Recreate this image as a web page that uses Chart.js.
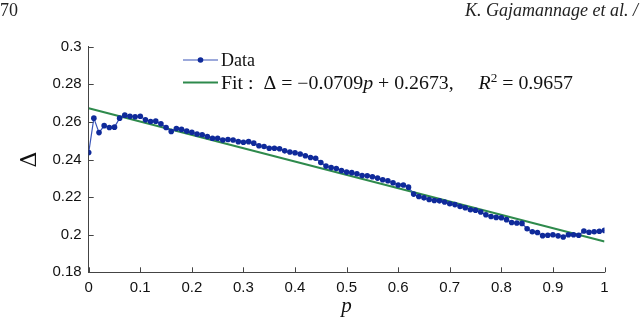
<!DOCTYPE html>
<html>
<head>
<meta charset="utf-8">
<script src="https://cdn.jsdelivr.net/npm/chart.js@4.4.1/dist/chart.umd.min.js"></script>
<style>
    html, body { margin: 0; padding: 0; background: #fff; }
    #wrap { position: relative; width: 640px; height: 319px; }
    .head { position: absolute; top: 0; font-family: "Liberation Serif", serif; font-size: 18px; line-height: 20px; color: #222; }
    #pageNo { left: 0; }
    #authors { right: 2px; font-style: italic; }
</style>
</head>
<body>
<div id="wrap">
    <canvas id="chart" width="640" height="319"></canvas>
    <div class="head" id="pageNo">70</div>
    <div class="head" id="authors">K. Gajamannage et al. /</div>
</div>
<script>
// ======================================================
//                    DONNÉES
// ======================================================

const pValues = [
    0, 0.01, 0.02, 0.03, 0.04, 0.05, 0.06, 0.07, 0.08, 0.09,
    0.10, 0.11, 0.12, 0.13, 0.14, 0.15, 0.16, 0.17, 0.18, 0.19,
    0.20, 0.21, 0.22, 0.23, 0.24, 0.25, 0.26, 0.27, 0.28, 0.29,
    0.30, 0.31, 0.32, 0.33, 0.34, 0.35, 0.36, 0.37, 0.38, 0.39,
    0.40, 0.41, 0.42, 0.43, 0.44, 0.45, 0.46, 0.47, 0.48, 0.49,
    0.50, 0.51, 0.52, 0.53, 0.54, 0.55, 0.56, 0.57, 0.58, 0.59,
    0.60, 0.61, 0.62, 0.63, 0.64, 0.65, 0.66, 0.67, 0.68, 0.69,
    0.70, 0.71, 0.72, 0.73, 0.74, 0.75, 0.76, 0.77, 0.78, 0.79,
    0.80, 0.81, 0.82, 0.83, 0.84, 0.85, 0.86, 0.87, 0.88, 0.89,
    0.90, 0.91, 0.92, 0.93, 0.94, 0.95, 0.96, 0.97, 0.98, 0.99,
    1.00
];

const deltaValues = [
    0.2437, 0.2620, 0.2543, 0.2580, 0.2570, 0.2572, 0.2620, 0.2636, 0.2630, 0.2627,
    0.2630, 0.2611, 0.2602, 0.2604, 0.2590, 0.2570, 0.2549, 0.2565, 0.2560, 0.2551,
    0.2545, 0.2536, 0.2532, 0.2522, 0.2513, 0.2513, 0.2504, 0.2506, 0.2504, 0.2495,
    0.2492, 0.2495, 0.2487, 0.2473, 0.2469, 0.2460, 0.2460, 0.2457, 0.2446, 0.2440,
    0.2436, 0.2429, 0.2420, 0.2411, 0.2407, 0.2384, 0.2365, 0.2357, 0.2352, 0.2341,
    0.2333, 0.2330, 0.2324, 0.2315, 0.2313, 0.2308, 0.2301, 0.2292, 0.2287, 0.2276,
    0.2264, 0.2264, 0.2253, 0.2216, 0.2203, 0.2196, 0.2187, 0.2182, 0.2180, 0.2174,
    0.2165, 0.2160, 0.2150, 0.2143, 0.2133, 0.2130, 0.2121, 0.2106, 0.2097, 0.2092,
    0.2090, 0.2080, 0.2065, 0.2062, 0.2060, 0.2032, 0.2016, 0.2012, 0.1995, 0.1997,
    0.2000, 0.1994, 0.1988, 0.2000, 0.2000, 0.1997, 0.2020, 0.2013, 0.2016, 0.2018,
    0.2023
];

// Droite de régression (extrémités)
const fitP = [0, 1];
const fitDelta = [0.2673, 0.1964];

// Graduations
const xTicks = [0, 0.1, 0.2, 0.3, 0.4, 0.5, 0.6, 0.7, 0.8, 0.9, 1];
const xTickLabels = ["0", "0.1", "0.2", "0.3", "0.4", "0.5", "0.6", "0.7", "0.8", "0.9", "1"];
const yTicks = [0.18, 0.2, 0.22, 0.24, 0.26, 0.28, 0.3];
const yTickLabels = ["0.18", "0.2", "0.22", "0.24", "0.26", "0.28", "0.3"];

// Couleurs
const dataLine = "#3a55b8";
const dataDot = "#0f2a9a";
const fitColor = "#2e8a4c";
const axisColor = "#444";

// ======================================================
//       PLUGINS (ticks intérieurs, titre Δ, légende)
// ======================================================

const inwardTicks = {
    id: "inwardTicks",
    beforeDatasetsDraw(chart) {
        const { ctx, chartArea, scales } = chart;
        ctx.save();
        ctx.strokeStyle = axisColor;
        ctx.lineWidth = 1;
        ctx.beginPath();
        xTicks.forEach(v => {
            const x = Math.round(scales.x.getPixelForValue(v)) + 0.5;
            ctx.moveTo(x, chartArea.bottom);
            ctx.lineTo(x, chartArea.bottom - 5);
        });
        yTicks.forEach(v => {
            const y = Math.round(scales.y.getPixelForValue(v)) + 0.5;
            ctx.moveTo(chartArea.left, y);
            ctx.lineTo(chartArea.left + 5, y);
        });
        ctx.stroke();

        // titre de l'axe Y, tourné comme dans MATLAB
        ctx.translate(30.5, (chartArea.top + chartArea.bottom) / 2);
        ctx.rotate(-Math.PI / 2);
        ctx.fillStyle = "#111";
        ctx.font = "22px 'DejaVu Serif', serif";
        ctx.textAlign = "center";
        ctx.textBaseline = "middle";
        ctx.fillText("\u0394", 0, 0);
        ctx.restore();
    }
};

function drawRuns(ctx, runs, x, y, targetWidth) {
    let total = 0;
    runs.forEach(r => {
        ctx.font = r.font;
        total += ctx.measureText(r.text).width;
    });
    const k = targetWidth ? targetWidth / total : 1;
    ctx.save();
    ctx.translate(x, y);
    ctx.scale(k, 1);
    let cx = 0;
    runs.forEach(r => {
        ctx.font = r.font;
        ctx.fillText(r.text, cx, r.dy || 0);
        cx += ctx.measureText(r.text).width;
    });
    ctx.restore();
}

const mathLegend = {
    id: "mathLegend",
    afterDraw(chart) {
        const { ctx } = chart;
        const rm = "18px 'Liberation Serif', serif";
        const it = "italic 18px 'Liberation Serif', serif";
        const sup = "12px 'Liberation Serif', serif";

        ctx.save();
        // Data
        ctx.strokeStyle = dataLine;
        ctx.lineWidth = 1.2;
        ctx.beginPath();
        ctx.moveTo(183, 60);
        ctx.lineTo(218, 60);
        ctx.stroke();
        ctx.fillStyle = dataDot;
        ctx.beginPath();
        ctx.arc(200.5, 60, 2.8, 0, Math.PI * 2);
        ctx.fill();

        // Fit
        ctx.strokeStyle = fitColor;
        ctx.lineWidth = 2;
        ctx.beginPath();
        ctx.moveTo(183, 82.5);
        ctx.lineTo(218, 82.5);
        ctx.stroke();

        ctx.fillStyle = "#111";
        ctx.textBaseline = "alphabetic";
        ctx.textAlign = "left";
        drawRuns(ctx, [{ text: "Data", font: rm }], 221, 66);
        drawRuns(ctx, [
            { text: "Fit :  \u0394 = \u22120.0709", font: rm },
            { text: "p", font: it },
            { text: " + 0.2673,     ", font: rm },
            { text: "R", font: it },
            { text: "2", font: sup, dy: -7 },
            { text: " = 0.9657", font: rm }
        ], 221, 88.5, 352);
        ctx.restore();
    }
};

// ======================================================
//                    GRAPHIQUE
// ======================================================

const points = pValues.map((p, i) => ({ x: p, y: deltaValues[i] }));
const fitPoints = fitP.map((p, i) => ({ x: p, y: fitDelta[i] }));

const tickFont = { family: "'Liberation Sans', Arial, sans-serif", size: 15 };

new Chart(document.getElementById("chart"), {
    type: "line",
    data: {
        datasets: [
            {
                label: "Fit",
                data: fitPoints,
                borderColor: fitColor,
                borderWidth: 2,
                pointRadius: 0,
                order: 2
            },
            {
                label: "Data",
                data: points,
                borderColor: dataLine,
                borderWidth: 1.2,
                pointRadius: 2.8,
                pointBackgroundColor: dataDot,
                pointBorderWidth: 0,
                order: 1
            }
        ]
    },
    options: {
        responsive: false,
        animation: false,
        layout: { padding: { top: 46.7, right: 35.5, left: 0, bottom: 0 } },
        plugins: {
            legend: { display: false },
            tooltip: { enabled: false }
        },
        scales: {
            x: {
                type: "linear",
                min: 0,
                max: 1,
                afterBuildTicks: s => { s.ticks = xTicks.map(v => ({ value: v })); },
                afterFit: s => { s.height = 46.7; },
                ticks: {
                    color: "#111",
                    font: tickFont,
                    padding: 7,
                    maxRotation: 0,
                    callback: (v) => xTickLabels[xTicks.indexOf(v)]
                },
                grid: { display: false, drawTicks: false },
                border: { display: true, color: axisColor, width: 1 },
                title: {
                    display: true,
                    text: "p",
                    color: "#111",
                    font: { family: "'Liberation Serif', serif", size: 21, style: "italic" },
                    padding: { top: 0, bottom: 0 }
                }
            },
            y: {
                type: "linear",
                min: 0.18,
                max: 0.3,
                afterBuildTicks: s => { s.ticks = yTicks.map(v => ({ value: v })); },
                afterFit: s => { s.width = 88.7; },
                ticks: {
                    color: "#111",
                    font: tickFont,
                    padding: 7,
                    callback: (v) => yTickLabels[yTicks.indexOf(v)]
                },
                grid: { display: false, drawTicks: false },
                border: { display: true, color: axisColor, width: 1 }
            }
        }
    },
    plugins: [inwardTicks, mathLegend]
});
</script>
</body>
</html>
